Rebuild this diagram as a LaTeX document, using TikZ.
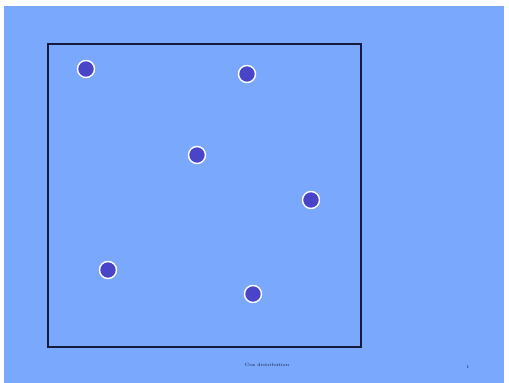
\documentclass[tikz,border=0pt]{standalone}
\usepackage{tikz}
\definecolor{slideBlue}{HTML}{7AA8FD}
\definecolor{dotBlue}{HTML}{4A45C8}
\definecolor{frameNavy}{HTML}{141B3C}
\begin{document}
\begin{tikzpicture}[x=1pt, y=-1pt,
		point/.style={
			circle, fill=dotBlue, draw=white, line width=1.4pt,
			minimum size=17pt, inner sep=0pt
		},
		caption/.style={font=\fontsize{4.5}{5.5}\selectfont, text=frameNavy}
		]
		
		\fill[white] (0,0) rectangle (509,383);
		\fill[slideBlue] (4,6) rectangle (504,383);
		\useasboundingbox (0,0) rectangle (509,383);
		
		\draw[frameNavy, line width=1.6pt] (48,44) rectangle (361,347);
		
		\node[point] (p1) at (86,69)   {};
		\node[point] (p2) at (247,74)  {};
		\node[point] (p3) at (197,155) {};
		\node[point] (p4) at (311,200) {};
		\node[point] (p5) at (108,270) {};
		\node[point] (p6) at (253,294) {};
		
		\node[caption] (title) at (267,365) {Cox distribution};
		\node[caption] (page) at (468,367) {1};
		
	\end{tikzpicture}
\end{document}
